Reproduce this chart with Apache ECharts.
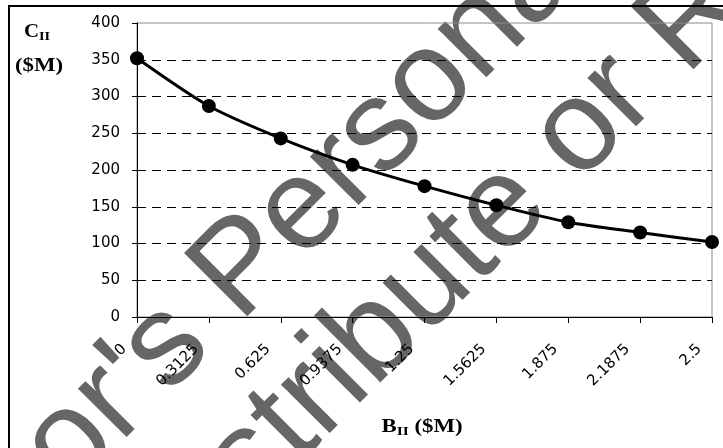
<!DOCTYPE html>
<html>
<head>
<meta charset="utf-8">
<script src="https://cdn.jsdelivr.net/npm/echarts@6/dist/echarts.min.js"></script>
<style>
html,body{margin:0;padding:0;background:#fff;}
#chart{width:723px;height:448px;}
</style>
</head>
<body>
<div id="chart"></div>
<script>
// ---- data ----
const categories = ['0', '0.3125', '0.625', '0.9375', '1.25', '1.5625', '1.875', '2.1875', '2.5'];
const costValues = [352, 287, 243, 207, 178, 152, 129, 115, 102];
const yMin = 0;
const yMax = 400;
const yStep = 50;
const xTitle = '{b|B}{s|II}{b| ($M)}';
const yTitleTop = '{b|C}{s|II}';
const yTitleBottom = '($M)';
const watermark1 = "Author's Personal Copy";
const watermark2 = 'Do Not Redistribute or Reproduce';

const chart = echarts.init(document.getElementById('chart'), null, {renderer: 'canvas'});

const serif = 'Liberation Serif, Times New Roman, serif';
const sans = 'DejaVu Sans, sans-serif';
const titleRich = {
  b: {fontFamily: serif, fontWeight: 'bold', fontSize: 19, color: '#000'},
  s: {fontFamily: serif, fontWeight: 'bold', fontSize: 13, color: '#000', padding: [10, 0, 0, 0]}
};

const splitColors = [];
for (let v = yMin; v <= yMax; v += yStep) splitColors.push(v === yMax ? 'rgba(0,0,0,0)' : '#000');

chart.setOption({
  backgroundColor: '#fff',
  animation: false,
  grid: {
    left: 137, right: 11, top: 23, bottom: 131,
    show: true, borderColor: '#8c8c8c', borderWidth: 1, backgroundColor: 'transparent'
  },
  xAxis: {
    type: 'category',
    data: categories,
    boundaryGap: false,
    axisLine: {lineStyle: {color: '#000', width: 1}},
    axisTick: {show: true, length: 6, lineStyle: {color: '#000'}},
    axisLabel: {
      rotate: 45, interval: 0, margin: 17, color: '#000',
      fontFamily: sans, fontSize: 15, padding: [0, 18, 0, 0], hideOverlap: false
    },
    splitLine: {show: false}
  },
  yAxis: {
    type: 'value',
    min: yMin, max: yMax, interval: yStep,
    axisLine: {show: true, lineStyle: {color: '#000', width: 1}},
    axisTick: {show: true, length: 5, lineStyle: {color: '#000'}},
    axisLabel: {margin: 17, color: '#000', fontFamily: sans, fontSize: 15},
    splitLine: {show: true, lineStyle: {color: splitColors, type: [9, 6], width: 1}}
  },
  series: [{
    type: 'line',
    data: costValues,
    smooth: 0.25,
    clip: false,
    symbol: 'circle',
    symbolSize: 14,
    itemStyle: {color: '#000'},
    lineStyle: {color: '#000', width: 3},
    z: 5
  }],
  graphic: [
    {
      type: 'text', z: -10, x: 336, y: 177, rotation: Math.PI / 4,
      style: {text: watermark1, x: 0, y: 0, fill: '#666666', font: '130px "Liberation Sans", Arial, sans-serif',
        align: 'center', verticalAlign: 'middle', textAlign: 'center', textVerticalAlign: 'middle'}
    },
    {
      type: 'text', z: -10, x: 418, y: 294, rotation: Math.PI / 4,
      style: {text: watermark2, x: 0, y: 0, fill: '#666666', font: '130px "Liberation Sans", Arial, sans-serif',
        align: 'center', verticalAlign: 'middle', textAlign: 'center', textVerticalAlign: 'middle'}
    },
    {
      type: 'rect', z: 50, silent: true,
      shape: {x: 9, y: 6, width: 800, height: 600},
      style: {fill: 'none', stroke: '#000', lineWidth: 2}
    },
    {
      type: 'text', z: 50, x: 37, y: 32, scaleX: 1.1,
      style: {text: yTitleTop, rich: titleRich, align: 'center', verticalAlign: 'middle', textAlign: 'center', textVerticalAlign: 'middle'}
    },
    {
      type: 'text', z: 50, x: 39, y: 66, scaleX: 1.2,
      style: {text: yTitleBottom, fill: '#000', font: 'bold 19px ' + serif, align: 'center', verticalAlign: 'middle', textAlign: 'center', textVerticalAlign: 'middle'}
    },
    {
      type: 'text', z: 50, x: 422, y: 427, scaleX: 1.2,
      style: {text: xTitle, rich: titleRich, align: 'center', verticalAlign: 'middle', textAlign: 'center', textVerticalAlign: 'middle'}
    }
  ]
});
</script>
</body>
</html>
